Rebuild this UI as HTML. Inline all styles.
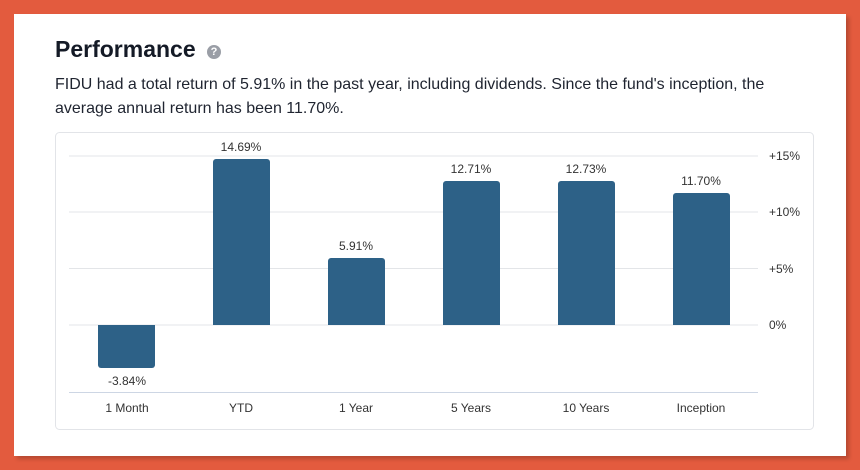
<!DOCTYPE html>
<html><head><style>
body{margin:0;width:860px;height:470px;background:#e35b3e;font-family:"Liberation Sans",sans-serif;overflow:hidden;position:relative}
.card{position:absolute;left:14px;top:14px;width:832px;height:442px;background:#fff;box-shadow:3px 3px 4px rgba(0,0,0,.2)}
h1{position:absolute;left:55px;top:36px;margin:0;font-size:23px;font-weight:bold;color:#141a26}
.q{position:absolute;left:207px;top:45px;width:14px;height:14px;border-radius:50%;background:#9a9ea6;color:#fff;font-size:11px;font-weight:bold;text-align:center;line-height:14px}
p{position:absolute;left:55px;top:73px;margin:0;width:740px;font-size:16px;line-height:24px;color:#1f2430}
</style></head><body>
<div class="card"></div>
<h1>Performance</h1><div class="q">?</div>
<p>FIDU had a total return of 5.91% in the past year, including dividends. Since the fund's inception, the average annual return has been 11.70%.</p>
<svg width="860" height="470" style="position:absolute;left:0;top:0" font-family="Liberation Sans, sans-serif">
<rect x="55.5" y="132.5" width="758" height="297" rx="4" fill="#fff" stroke="#e2e4e8"/>
<g stroke="#e3e5e8"><line x1="69" x2="758" y1="156" y2="156"/><line x1="69" x2="758" y1="212" y2="212"/><line x1="69" x2="758" y1="268.5" y2="268.5"/><line x1="69" x2="758" y1="325" y2="325"/></g>
<line x1="69" x2="758" y1="392.5" y2="392.5" stroke="#cdd6e4"/>
<g font-size="12" fill="#333"><text x="769" y="160">+15%</text><text x="769" y="216">+10%</text><text x="769" y="273">+5%</text><text x="769" y="329">0%</text></g>
<g fill="#2d6187">
<path d="M98 325h57v40a3 3 0 0 1-3 3h-51a3 3 0 0 1-3-3z"/>
<rect x="213" y="159" width="57" height="166" rx="3"/><rect x="213" y="300" width="57" height="25"/>
<rect x="328" y="258" width="57" height="67" rx="3"/><rect x="328" y="300" width="57" height="25"/>
<rect x="443" y="181" width="57" height="144" rx="3"/><rect x="443" y="300" width="57" height="25"/>
<rect x="558" y="181" width="57" height="144" rx="3"/><rect x="558" y="300" width="57" height="25"/>
<rect x="673" y="193" width="57" height="132" rx="3"/><rect x="673" y="300" width="57" height="25"/>
</g>
<g font-size="12" fill="#333" text-anchor="middle">
<text x="127" y="385">-3.84%</text><text x="241" y="151">14.69%</text><text x="356" y="250">5.91%</text>
<text x="471" y="173">12.71%</text><text x="586" y="173">12.73%</text><text x="701" y="185">11.70%</text>
<text x="127" y="412">1 Month</text><text x="241" y="412">YTD</text><text x="356" y="412">1 Year</text>
<text x="471" y="412">5 Years</text><text x="586" y="412">10 Years</text><text x="701" y="412">Inception</text>
</g>
</svg>
</body></html>
